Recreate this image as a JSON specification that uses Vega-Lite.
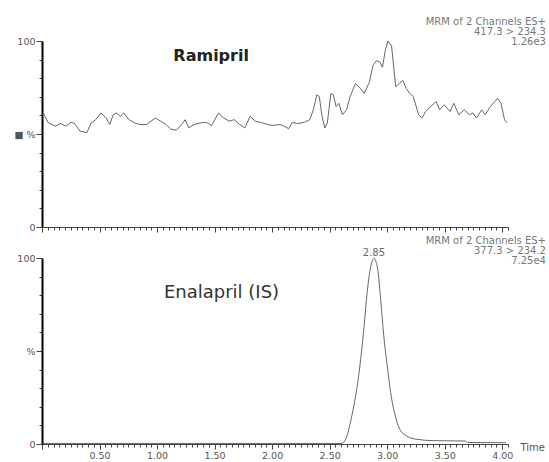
{
  "$schema": "https://vega.github.io/schema/vega-lite/v6.json",
  "autosize": {"type": "pad"},
  "padding": {"left": 4, "top": 16, "right": 0, "bottom": 0},
  "background": "white",
  "spacing": 31,
  "bounds": "flush",
  "config": {
    "view": {"stroke": null},
    "font": "DejaVu Sans",
    "axis": {"grid": false, "labelFont": "DejaVu Sans", "labelColor": "#555", "labelFontSize": 9.5, "tickColor": "#444", "domainColor": "#333", "labelOverlap": false, "labelFlush": false}
  },
  "datasets": {
    "ram": [
      {"t":0.009,"v":61.3},{"t":0.055,"v":56.0},{"t":0.116,"v":54.2},{"t":0.162,"v":55.6},{"t":0.207,"v":54.2},{"t":0.253,"v":56.3},{"t":0.284,"v":55.6},{"t":0.329,"v":51.6},{"t":0.39,"v":50.7},{"t":0.427,"v":56.0},{"t":0.467,"v":57.7},{"t":0.512,"v":61.3},{"t":0.558,"v":58.6},{"t":0.589,"v":55.1},{"t":0.619,"v":60.4},{"t":0.65,"v":61.3},{"t":0.68,"v":59.5},{"t":0.711,"v":61.3},{"t":0.756,"v":57.7},{"t":0.802,"v":56.0},{"t":0.848,"v":55.1},{"t":0.909,"v":55.1},{"t":0.985,"v":58.6},{"t":1.031,"v":56.9},{"t":1.077,"v":55.1},{"t":1.122,"v":52.5},{"t":1.168,"v":52.1},{"t":1.214,"v":55.1},{"t":1.244,"v":57.7},{"t":1.275,"v":53.3},{"t":1.321,"v":55.1},{"t":1.382,"v":56.0},{"t":1.427,"v":56.3},{"t":1.473,"v":54.6},{"t":1.534,"v":61.3},{"t":1.58,"v":58.6},{"t":1.626,"v":56.9},{"t":1.671,"v":57.7},{"t":1.717,"v":55.1},{"t":1.763,"v":53.3},{"t":1.809,"v":59.5},{"t":1.854,"v":56.9},{"t":1.915,"v":56.0},{"t":1.961,"v":55.1},{"t":2.007,"v":54.6},{"t":2.068,"v":55.1},{"t":2.114,"v":53.9},{"t":2.144,"v":52.8},{"t":2.175,"v":56.3},{"t":2.22,"v":55.6},{"t":2.281,"v":56.3},{"t":2.327,"v":57.7},{"t":2.358,"v":63.0},{"t":2.388,"v":71.0},{"t":2.41,"v":70.1},{"t":2.434,"v":59.5},{"t":2.458,"v":53.3},{"t":2.48,"v":56.0},{"t":2.51,"v":71.8},{"t":2.532,"v":71.0},{"t":2.556,"v":64.8},{"t":2.58,"v":66.5},{"t":2.611,"v":60.4},{"t":2.647,"v":63.0},{"t":2.678,"v":70.1},{"t":2.724,"v":77.1},{"t":2.769,"v":74.5},{"t":2.8,"v":71.8},{"t":2.846,"v":78.0},{"t":2.876,"v":86.8},{"t":2.907,"v":89.4},{"t":2.937,"v":88.6},{"t":2.959,"v":85.9},{"t":2.983,"v":94.7},{"t":3.007,"v":100},{"t":3.038,"v":97.4},{"t":3.074,"v":75.4},{"t":3.105,"v":77.1},{"t":3.135,"v":78.9},{"t":3.166,"v":74.5},{"t":3.196,"v":71.8},{"t":3.227,"v":70.1},{"t":3.273,"v":60.4},{"t":3.303,"v":58.6},{"t":3.334,"v":62.1},{"t":3.379,"v":64.8},{"t":3.425,"v":67.4},{"t":3.456,"v":63.0},{"t":3.495,"v":65.7},{"t":3.547,"v":62.1},{"t":3.578,"v":66.5},{"t":3.623,"v":60.4},{"t":3.669,"v":63.0},{"t":3.715,"v":60.4},{"t":3.745,"v":61.3},{"t":3.776,"v":58.6},{"t":3.822,"v":63.0},{"t":3.852,"v":60.4},{"t":3.898,"v":64.8},{"t":3.959,"v":69.2},{"t":3.989,"v":66.5},{"t":4.02,"v":57.7},{"t":4.04,"v":56.0}
    ],
    "ena": [
      {"t":0.01,"v":0.3},{"t":1.0,"v":0.3},{"t":2.0,"v":0.3},{"t":2.6,"v":0.3},{"t":2.62,"v":0.8},{"t":2.65,"v":4.3},{"t":2.68,"v":11.5},{"t":2.71,"v":20.5},{"t":2.74,"v":31.4},{"t":2.77,"v":45.8},{"t":2.8,"v":63.8},{"t":2.825,"v":81},{"t":2.85,"v":93},{"t":2.87,"v":98.5},{"t":2.885,"v":100},{"t":2.9,"v":98.5},{"t":2.92,"v":93},{"t":2.945,"v":76.4},{"t":2.97,"v":58.4},{"t":3.0,"v":42.2},{"t":3.03,"v":27.7},{"t":3.07,"v":15.1},{"t":3.11,"v":7.9},{"t":3.17,"v":4.3},{"t":3.26,"v":2.5},{"t":3.4,"v":1.8},{"t":3.68,"v":1.6},{"t":3.7,"v":0.8},{"t":4.03,"v":0.7}
    ],
    "ramText": [
      {"t":4.38,"v":110.4,"s":"MRM of 2 Channels ES+"},
      {"t":4.38,"v":104.8,"s":"417.3 > 234.3"},
      {"t":4.38,"v":99.2,"s":"1.26e3"}
    ],
    "enaText": [
      {"t":4.38,"v":109.4,"s":"MRM of 2 Channels ES+"},
      {"t":4.38,"v":103.8,"s":"377.3 > 234.2"},
      {"t":4.38,"v":98.2,"s":"7.25e4"}
    ],
    "ramName": [{"t":1.47,"v":92,"s":"Ramipril"}],
    "enaName": [{"t":1.56,"v":81.4,"s":"Enalapril (IS)"}],
    "peak": [{"t":2.885,"v":102.9,"s":"2.85"}]
  },
  "vconcat": [
    {
      "width": 466,
      "height": 186,
      "layer": [
        {
          "data": {"name": "ram"},
          "mark": {"type": "line", "color": "#666", "strokeWidth": 1},
          "encoding": {
            "x": {"field": "t", "type": "quantitative", "scale": {"domain": [0, 4.05], "nice": false, "zero": false},
              "axis": {"title": null, "labels": false, "domainColor": "#444", "labelOverlap": false, "tickCount": 500,
                "values": [0,0.05,0.1,0.15,0.2,0.25,0.3,0.35,0.4,0.45,0.5,0.55,0.6,0.65,0.7,0.75,0.8,0.85,0.9,0.95,1,1.05,1.1,1.15,1.2,1.25,1.3,1.35,1.4,1.45,1.5,1.55,1.6,1.65,1.7,1.75,1.8,1.85,1.9,1.95,2,2.05,2.1,2.15,2.2,2.25,2.3,2.35,2.4,2.45,2.5,2.55,2.6,2.65,2.7,2.75,2.8,2.85,2.9,2.95,3,3.05,3.1,3.15,3.2,3.25,3.3,3.35,3.4,3.45,3.5,3.55,3.6,3.65,3.7,3.75,3.8,3.85,3.9,3.95,4,4.05],
                "tickSize": {"condition": {"test": "abs(datum.value*2 - round(datum.value*2)) < 0.001", "value": 5}, "value": 3}}},
            "y": {"field": "v", "type": "quantitative", "scale": {"domain": [0, 100], "nice": false},
              "axis": {"title": null, "values": [0,10,20,30,40,50,60,70,80,90,100], "tickCount": 500, "domainColor": "#000", "domainWidth": 2, "labelPadding": 1, "labelOverlap": false,
                "labelExpr": "datum.value == 100 ? '100' : datum.value == 50 ? '■    %' : datum.value == 0 ? '0' : ''",
                "tickSize": {"condition": {"test": "datum.value % 50 === 0", "value": 6}, "value": 3}}}
          }
        },
        {
          "data": {"name": "ramText"},
          "mark": {"type": "text", "align": "right", "baseline": "middle", "fontSize": 10, "color": "#777"},
          "encoding": {"x": {"field": "t", "type": "quantitative"}, "y": {"field": "v", "type": "quantitative"}, "text": {"field": "s"}}
        },
        {
          "data": {"name": "ramName"},
          "mark": {"type": "text", "align": "center", "baseline": "middle", "fontSize": 16, "fontWeight": "bold", "color": "#222"},
          "encoding": {"x": {"field": "t", "type": "quantitative"}, "y": {"field": "v", "type": "quantitative"}, "text": {"field": "s"}}
        }
      ]
    },
    {
      "width": 466,
      "height": 186,
      "layer": [
        {
          "data": {"name": "ena"},
          "mark": {"type": "line", "color": "#666", "strokeWidth": 1, "interpolate": "monotone"},
          "encoding": {
            "x": {"field": "t", "type": "quantitative", "scale": {"domain": [0, 4.05], "nice": false, "zero": false},
              "axis": {"title": "Time", "titleX": 478, "titleY": 3, "titleAlign": "left", "titleBaseline": "middle", "titleFontWeight": "normal", "titleFontSize": 10, "titleColor": "#555", "titleFont": "DejaVu Sans",
                "domainColor": "#444", "labelPadding": 1, "labelOverlap": false, "tickCount": 500,
                "values": [0,0.05,0.1,0.15,0.2,0.25,0.3,0.35,0.4,0.45,0.5,0.55,0.6,0.65,0.7,0.75,0.8,0.85,0.9,0.95,1,1.05,1.1,1.15,1.2,1.25,1.3,1.35,1.4,1.45,1.5,1.55,1.6,1.65,1.7,1.75,1.8,1.85,1.9,1.95,2,2.05,2.1,2.15,2.2,2.25,2.3,2.35,2.4,2.45,2.5,2.55,2.6,2.65,2.7,2.75,2.8,2.85,2.9,2.95,3,3.05,3.1,3.15,3.2,3.25,3.3,3.35,3.4,3.45,3.5,3.55,3.6,3.65,3.7,3.75,3.8,3.85,3.9,3.95,4,4.05],
                "labelExpr": "datum.value > 0.01 && abs(datum.value*2 - round(datum.value*2)) < 0.001 ? format(datum.value, '.2f') : ''",
                "tickSize": {"condition": {"test": "abs(datum.value*2 - round(datum.value*2)) < 0.001", "value": 5}, "value": 3}}},
            "y": {"field": "v", "type": "quantitative", "scale": {"domain": [0, 100], "nice": false},
              "axis": {"title": null, "values": [0,10,20,30,40,50,60,70,80,90,100], "tickCount": 500, "domainColor": "#000", "domainWidth": 2, "labelPadding": 1, "labelOverlap": false,
                "labelExpr": "datum.value == 100 ? '100' : datum.value == 50 ? '%' : datum.value == 0 ? '0' : ''",
                "tickSize": {"condition": {"test": "datum.value % 50 === 0", "value": 6}, "value": 3}}}
          }
        },
        {
          "data": {"name": "enaText"},
          "mark": {"type": "text", "align": "right", "baseline": "middle", "fontSize": 10, "color": "#777"},
          "encoding": {"x": {"field": "t", "type": "quantitative"}, "y": {"field": "v", "type": "quantitative"}, "text": {"field": "s"}}
        },
        {
          "data": {"name": "enaName"},
          "mark": {"type": "text", "align": "center", "baseline": "middle", "fontSize": 18, "color": "#333"},
          "encoding": {"x": {"field": "t", "type": "quantitative"}, "y": {"field": "v", "type": "quantitative"}, "text": {"field": "s"}}
        },
        {
          "data": {"name": "peak"},
          "mark": {"type": "text", "align": "center", "baseline": "middle", "fontSize": 10, "color": "#666"},
          "encoding": {"x": {"field": "t", "type": "quantitative"}, "y": {"field": "v", "type": "quantitative"}, "text": {"field": "s"}}
        }
      ]
    }
  ]
}
